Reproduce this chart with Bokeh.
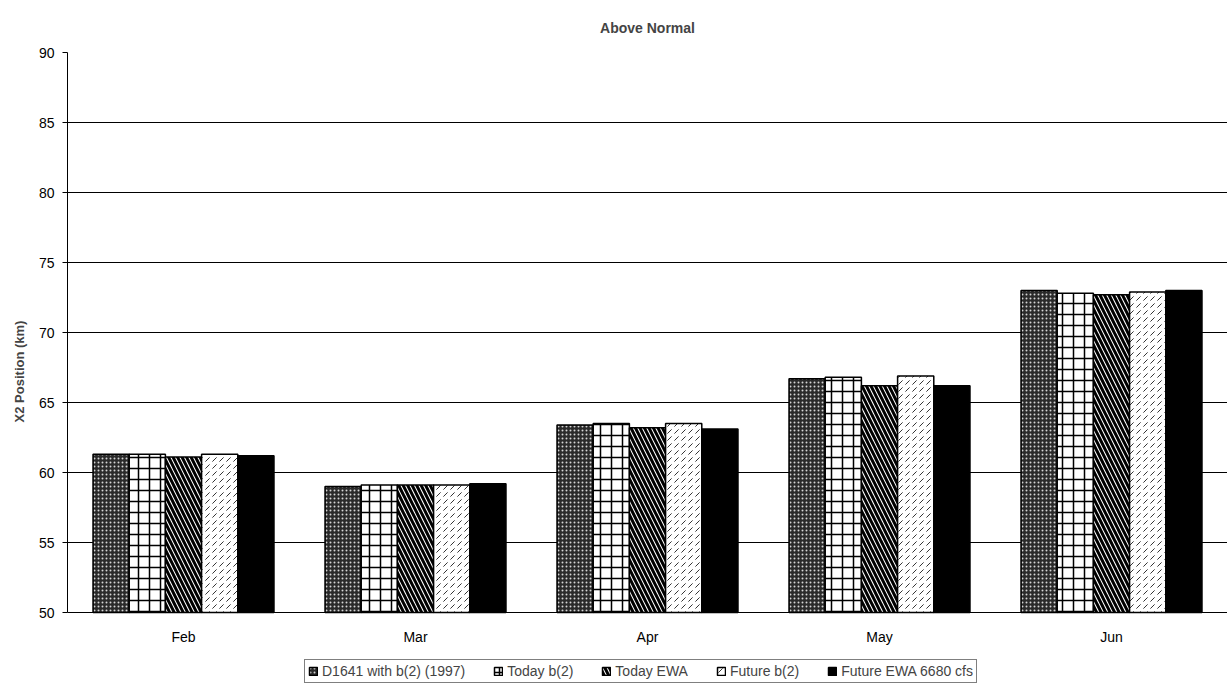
from bokeh.plotting import figure
from bokeh.models import ColumnDataSource, FactorRange, Legend, LegendItem, SingleIntervalTicker, Range1d
from bokeh.transform import dodge
from bokeh.embed import file_html
from bokeh.resources import INLINE

months = ["Feb", "Mar", "Apr", "May", "Jun"]
series_names = ["D1641 with b(2) (1997)", "Today b(2)", "Today EWA", "Future b(2)", "Future EWA 6680 cfs"]
d1641 = [61.3, 59.0, 63.4, 66.7, 73.0]
today_b2 = [61.3, 59.1, 63.5, 66.8, 72.8]
today_ewa = [61.1, 59.1, 63.2, 66.2, 72.7]
future_b2 = [61.3, 59.1, 63.5, 66.9, 72.9]
future_ewa = [61.2, 59.2, 63.1, 66.2, 73.0]

src = ColumnDataSource(dict(month=months, s1=d1641, s2=today_b2, s3=today_ewa, s4=future_b2, s5=future_ewa))

FONT = "Liberation Sans"
Y0, Y1 = 50, 90
EXTRA = 5.57  # room below the axis (in data units) that holds the legend
p = figure(frame_width=1160, frame_height=638, x_range=FactorRange(*months), y_range=Range1d(Y0 - EXTRA, Y1),
           output_backend="svg", toolbar_location=None,
           min_border_left=67, min_border_right=0, min_border_top=52, min_border_bottom=0)
p.title.text = "Above Normal"
p.title.align = "center"
p.title.vertical_align = "top"
p.title.text_font = FONT
p.title.text_font_size = "14px"
p.title.text_font_style = "bold"
p.title.standoff = 30

bw = 0.156
offsets = [-2 * bw, -bw, 0, bw, 2 * bw]
styles = [
    dict(fill_color="#2a2a2a", hatch_pattern=".", hatch_color="white", hatch_scale=4, hatch_weight=1, hatch_alpha=0.8),
    dict(fill_color="white", hatch_pattern="+", hatch_color="black", hatch_scale=11, hatch_weight=1.5),
    dict(fill_color="white", hatch_pattern="\\", hatch_color="black", hatch_scale=9, hatch_weight=3),
    dict(fill_color="white", hatch_pattern=",", hatch_color="#333333", hatch_scale=7, hatch_weight=1),
    dict(fill_color="black"),
]
cols = ["s1", "s2", "s3", "s4", "s5"]
renderers = []
for col, off, st in zip(cols, offsets, styles):
    r = p.vbar(x=dodge("month", off, range=p.x_range), top=col, bottom=Y0, width=bw, source=src,
               line_color="black", line_width=1.5, **st)
    renderers.append(r)

p.yaxis.ticker = SingleIntervalTicker(interval=5)
p.yaxis.bounds = (Y0, Y1)
p.yaxis.axis_label = "X2 Position (km)"
p.yaxis.axis_label_text_font = FONT
p.yaxis.axis_label_text_font_style = "bold"
p.yaxis.axis_label_text_font_size = "13px"
p.yaxis.axis_label_standoff = 9
for ax in (p.xaxis, p.yaxis):
    ax.major_label_text_font = FONT
    ax.major_label_text_font_size = "14px"
    ax.major_label_text_color = "black"
    ax.axis_line_color = "black"
    ax.major_tick_line_color = "black"
    ax.minor_tick_line_color = None
    ax.major_tick_out = 5
    ax.major_tick_in = 0
p.yaxis.major_label_standoff = 8
p.xaxis.fixed_location = Y0
p.xaxis.major_tick_line_color = None
p.xaxis.major_label_standoff = 11

p.xgrid.grid_line_color = None
p.ygrid.grid_line_color = "black"
p.ygrid.grid_line_width = 1
p.outline_line_color = None

legend = Legend(items=[LegendItem(label=n, renderers=[r]) for n, r in zip(series_names, renderers)],
                orientation="horizontal", location=(237, 7))
legend.label_text_font = FONT
legend.label_text_font_size = "14px"
legend.glyph_width = 10
legend.glyph_height = 10
legend.label_standoff = 4
legend.spacing = 28
legend.padding = 3
legend.margin = 0
legend.border_line_color = "black"
legend.border_line_width = 1
legend.label_height = 14
p.add_layout(legend, "center")

open("out.html", "w").write(file_html(p, INLINE))
